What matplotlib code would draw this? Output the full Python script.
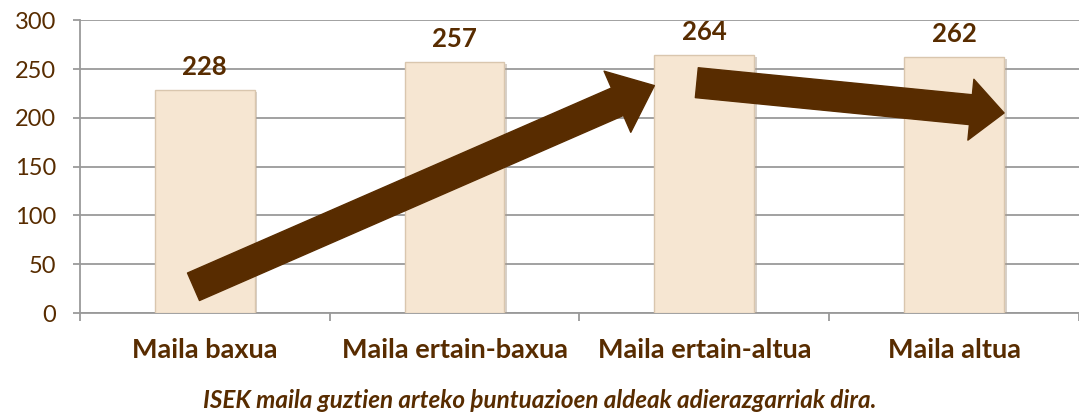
import matplotlib
matplotlib.use("Agg")
import matplotlib.pyplot as plt
import matplotlib.patheffects as pe

# data
categories = ["Maila baxua", "Maila ertain-baxua", "Maila ertain-altua", "Maila altua"]
scores = [228, 257, 264, 262]
y_ticks = [0, 50, 100, 150, 200, 250, 300]
note = "ISEK maila guztien arteko þuntuazioen aldeak adierazgarriak dira."

brown = "#582c00"
bar_fill = "#f6e6d2"
grid_col = "#9a9a9a"

plt.rcParams["font.family"] = ["Lato", "DejaVu Sans"]

fig = plt.figure(figsize=(10.79, 4.12), dpi=100)
ax = fig.add_axes([0.074, 0.240, 0.926, 0.711])

x = list(range(len(categories)))
bars = ax.bar(x, scores, width=0.4, color=bar_fill, edgecolor="#d9c6ae", linewidth=1.0, zorder=3)
for b in bars:
    b.set_path_effects([pe.SimplePatchShadow(offset=(2, -1), shadow_rgbFace="#a8998a", alpha=0.45), pe.Normal()])

for xi, v in zip(x, scores):
    ax.annotate(str(v), (xi, v), xytext=(0, 8), textcoords="offset points",
                ha="center", va="bottom", fontsize=18.5, fontweight="bold", color=brown, zorder=5)

ax.set_xlim(-0.5, len(categories) - 0.5)
ax.set_ylim(0, 300)
ax.set_yticks(y_ticks)
ax.yaxis.grid(True, color=grid_col, linewidth=1.3, zorder=0)
ax.set_axisbelow(True)
ax.tick_params(axis="y", labelsize=17, labelcolor=brown, color=grid_col, length=5, width=1.3, pad=12)
ax.set_xticks(x)
ax.set_xticklabels(categories, fontsize=19.5, fontweight="bold", color=brown)
ax.tick_params(axis="x", length=0, pad=18)
ax.set_xticks([-0.5, 0.5, 1.5, 2.5, 3.5], minor=True)
ax.tick_params(axis="x", which="minor", length=6, color=grid_col, width=1.3)

for side in ["top", "right"]:
    ax.spines[side].set_visible(False)
for side in ["left", "bottom"]:
    ax.spines[side].set_color(grid_col)
    ax.spines[side].set_linewidth(1.3)

# trend arrows
ax.annotate("", xy=(1.8, 233), xytext=(-0.045, 27),
            arrowprops=dict(arrowstyle="simple,head_length=1.45,head_width=2.4,tail_width=1.08",
                            color=brown, mutation_scale=20, shrinkA=0, shrinkB=0), zorder=6)
ax.annotate("", xy=(3.2, 205), xytext=(1.97, 236),
            arrowprops=dict(arrowstyle="simple,head_length=1.2,head_width=2.2,tail_width=1.08",
                            color=brown, mutation_scale=20, shrinkA=0, shrinkB=0), zorder=6)

fig.text(0.5, 0.028, note, ha="center", va="center", fontsize=17.5,
         fontweight="bold", style="italic", color=brown)

fig.savefig("out.png", dpi=100)
